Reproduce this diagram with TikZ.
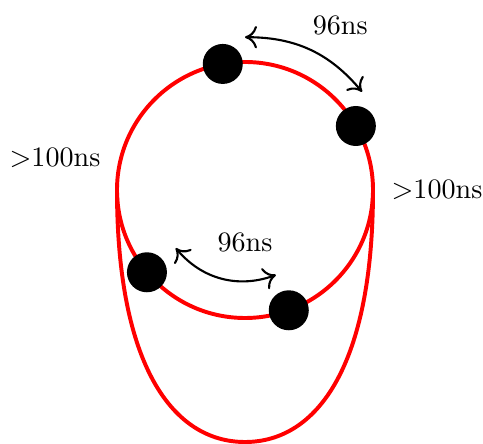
\documentclass[tikz,border=0pt]{standalone}
\usepackage{amsmath,amssymb}
\usepackage{xcolor}
\usetikzlibrary{arrows.meta}

\begin{document}
\begin{tikzpicture}[every node/.style={font=\normalsize},
  ring/.style={red, line width=1.4pt},
  ion/.style={circle, fill=black, inner sep=0pt, minimum size=0.5cm},
  gap/.style={<->, line width=0.75pt, >={To[length=1.5mm,width=2.8mm]}}]
\useasboundingbox (-3.0625,-3.175) rectangle (2.975,2.375);
\draw[ring] (0,0) circle (1.6);
\draw[ring] (-1.6,0) .. controls (-1.6,-2.2) and (-0.9,-3.15) .. (0,-3.15)
  .. controls (0.9,-3.15) and (1.6,-2.2) .. (1.6,0);
\node[ion] (A) at (100:1.6) {};
\node[ion] (B) at (30:1.6) {};
\node[ion] (C) at (220:1.6) {};
\node[ion] (D) at (-70:1.6) {};
\coordinate (a1) at (90:1.91);
\coordinate (a2) at (40:1.91);
\coordinate (b1) at (220:1.13);
\coordinate (b2) at (290:1.13);
\draw[gap] (a1) to[bend left=25] (a2);
\draw[gap] (b1) to[bend right=35] (b2);
\node (T) at (1.19,2.06) {96ns};
\node (M) at (0,-0.65) {96ns};
\node (L) at (-2.375,0.41) {$>$100ns};
\node (R) at (2.4,0) {$>$100ns};
\end{tikzpicture}
\end{document}
